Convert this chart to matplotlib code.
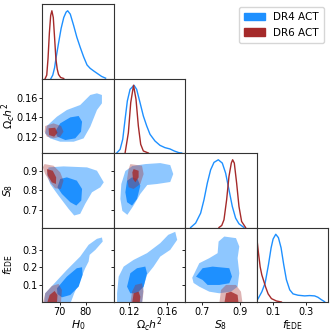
import matplotlib
matplotlib.use("Agg")
import matplotlib.pyplot as plt
from matplotlib.patches import Patch

# parameters: axis labels, ranges and ticks
labels = [r"$H_0$", r"$\Omega_c h^2$", r"$S_8$", r"$f_{\rm EDE}$"]
lims = [(63.3, 90.6), (0.1037, 0.1796), (0.61, 0.99), (0.0, 0.43)]
xticks = [[70, 80], [0.12, 0.16], [0.7, 0.9], [0.1, 0.3]]
xticklabels = [["70", "80"], ["0.12", "0.16"], ["0.7", "0.9"], ["0.1", "0.3"]]
yticks = [[], [0.12, 0.14, 0.16], [0.7, 0.8, 0.9], [0.1, 0.2, 0.3]]
yticklabels = [[], ["0.12", "0.14", "0.16"], ["0.7", "0.8", "0.9"], ["0.1", "0.2", "0.3"]]

# 1D marginals (normalised to peak = 1)
h0_dr4_x = [66.6, 67.3, 68.0, 68.5, 69.5, 70.5, 71.5, 72.4, 73.0, 74.0, 75.3, 76.5, 77.8, 79.1, 80.4, 81.6, 83.0, 84.5, 86.0, 87.5]
h0_dr4_p = [0.0, 0.05, 0.16, 0.29, 0.52, 0.74, 0.90, 0.98, 1.0, 0.95, 0.78, 0.61, 0.46, 0.32, 0.20, 0.15, 0.11, 0.07, 0.03, 0.005]
h0_dr6_x = [64.4, 65.0, 65.5, 66.0, 66.5, 66.96, 67.5, 68.0, 68.5, 69.0, 69.5, 70.3, 71.5]
h0_dr6_p = [0.0, 0.05, 0.30, 0.67, 0.93, 1.0, 0.90, 0.60, 0.29, 0.14, 0.06, 0.015, 0.0]

om_dr4_x = [0.1069, 0.1105, 0.1133, 0.1158, 0.1182, 0.1211, 0.1253, 0.1281, 0.1317, 0.1352, 0.1388, 0.1423, 0.1476, 0.1529, 0.1582, 0.1635, 0.168, 0.173, 0.176]
om_dr4_p = [0.0, 0.054, 0.202, 0.497, 0.768, 0.94, 1.0, 0.94, 0.743, 0.547, 0.399, 0.276, 0.177, 0.113, 0.079, 0.06, 0.03, 0.005, 0.0]
om_dr6_x = [0.1158, 0.1193, 0.1218, 0.1248, 0.1274, 0.1299, 0.1324, 0.1352, 0.1405]
om_dr6_p = [0.0, 0.30, 0.743, 1.0, 0.793, 0.399, 0.128, 0.03, 0.0]

s8_dr4_x = [0.6395, 0.6661, 0.6927, 0.7105, 0.7282, 0.7459, 0.7637, 0.7867, 0.808, 0.8257, 0.8435, 0.8612, 0.8789, 0.8967, 0.9232]
s8_dr4_p = [0.0, 0.065, 0.212, 0.409, 0.655, 0.852, 0.961, 1.0, 0.951, 0.803, 0.557, 0.311, 0.138, 0.055, 0.0]
s8_dr6_x = [0.7903, 0.805, 0.8169, 0.831, 0.8435, 0.8559, 0.863, 0.8719, 0.8843, 0.8967, 0.9108, 0.932]
s8_dr6_p = [0.0, 0.03, 0.114, 0.409, 0.754, 0.951, 1.0, 0.951, 0.655, 0.311, 0.089, 0.0]

f_dr4_x = [0.0, 0.012, 0.032, 0.052, 0.072, 0.088, 0.1, 0.116, 0.132, 0.148, 0.164, 0.18, 0.2, 0.22, 0.25, 0.29, 0.32, 0.35, 0.37, 0.39, 0.41]
f_dr4_p = [0.01, 0.06, 0.15, 0.28, 0.55, 0.80, 0.93, 1.0, 0.95, 0.80, 0.55, 0.33, 0.18, 0.12, 0.10, 0.09, 0.095, 0.09, 0.07, 0.035, 0.005]
f_dr6_x = [0.0, 0.004, 0.012, 0.022, 0.032, 0.045, 0.055, 0.07, 0.09, 0.12, 0.15]
f_dr6_p = [1.0, 0.90, 0.72, 0.52, 0.40, 0.30, 0.22, 0.12, 0.05, 0.015, 0.0]

# 2D contours (68% and 95%), (x, y) in parameter units
h0_om_dr4_95 = [(64.4, 0.1237), (65.05, 0.1312), (68.9, 0.1407), (72.7, 0.1475), (77.8, 0.1526), (81.65, 0.1628), (84.2, 0.1645), (86.1, 0.1628), (86.1, 0.1543), (84.2, 0.1475), (81.65, 0.1305), (79.1, 0.1186), (75.3, 0.1152), (70.15, 0.1152), (66.3, 0.1186)]
h0_om_dr4_68 = [(68.2, 0.1254), (70.15, 0.1339), (74.0, 0.14), (77.2, 0.1414), (78.5, 0.1356), (78.1, 0.1254), (75.9, 0.1186), (72.1, 0.1169), (69.1, 0.1203)]
h0_om_dr6_95 = [(64.4, 0.1312), (67.6, 0.1339), (70.5, 0.1312), (71.4, 0.1254), (70.15, 0.1203), (67.6, 0.1186), (65.05, 0.1203), (64.2, 0.1254)]
h0_om_dr6_68 = [(65.7, 0.1288), (68.2, 0.1295), (69.1, 0.1244), (67.85, 0.1203), (65.9, 0.122)]

h0_s8_dr4_95 = [(65.7, 0.9166), (71.4, 0.9217), (80.4, 0.9166), (84.2, 0.8996), (86.8, 0.8405), (85.5, 0.8151), (82.3, 0.7897), (79.7, 0.7305), (77.8, 0.6797), (75.5, 0.6712), (73.35, 0.7051), (69.5, 0.7728), (66.3, 0.832), (65.05, 0.8827)]
h0_s8_dr4_68 = [(69.1, 0.8151), (70.15, 0.8574), (72.7, 0.8658), (76.5, 0.8489), (78.5, 0.8066), (78.2, 0.7474), (76.3, 0.722), (74.0, 0.739), (70.8, 0.7812)]
h0_s8_dr6_95 = [(64.15, 0.9335), (67.6, 0.925), (70.15, 0.8912), (71.4, 0.8489), (70.4, 0.8066), (68.2, 0.81), (66.3, 0.8405), (64.4, 0.8827), (63.5, 0.9166)]
h0_s8_dr6_68 = [(65.05, 0.9081), (67.3, 0.8996), (68.6, 0.8658), (68.5, 0.832), (66.96, 0.8405), (65.4, 0.8743)]

h0_f_dr4_95 = [(64.0, -0.01), (64.4, 0.0502), (72.7, 0.1852), (77.8, 0.2623), (81.0, 0.3299), (84.2, 0.3646), (86.1, 0.3723), (86.4, 0.3491), (83.6, 0.3009), (81.4, 0.272), (81.0, 0.2334), (79.7, 0.1949), (77.8, 0.1273), (75.5, 0.0502), (74.0, -0.01)]
h0_f_dr4_68 = [(68.9, 0.0791), (72.7, 0.1466), (76.5, 0.1949), (78.5, 0.2006), (78.7, 0.1562), (77.2, 0.0887), (74.0, 0.0405), (70.8, 0.027), (69.1, 0.0463)]
h0_f_dr6_95 = [(63.5, -0.01), (64.4, 0.0502), (66.96, 0.0926), (69.5, 0.1042), (70.8, 0.0694), (70.4, -0.01)]
h0_f_dr6_68 = [(65.05, -0.01), (66.1, 0.0405), (68.0, 0.0637), (69.1, 0.0405), (68.9, -0.01)]

om_s8_dr4_95 = [(0.1108, 0.7558), (0.1118, 0.832), (0.1161, 0.898), (0.1235, 0.9233), (0.1373, 0.9335), (0.1532, 0.9386), (0.1638, 0.9284), (0.167, 0.8827), (0.1638, 0.8421), (0.15, 0.832), (0.1394, 0.8269), (0.132, 0.7812), (0.1246, 0.7203), (0.1182, 0.6746), (0.1129, 0.6949)]
om_s8_dr4_68 = [(0.1161, 0.7898), (0.1179, 0.7391), (0.1232, 0.7218), (0.1285, 0.7558), (0.132, 0.8233), (0.1291, 0.8574), (0.1232, 0.866), (0.1179, 0.8487)]
om_s8_dr6_95 = [(0.1214, 0.9335), (0.1338, 0.9249), (0.1355, 0.8827), (0.132, 0.832), (0.1249, 0.8066), (0.1196, 0.8152), (0.1179, 0.8574), (0.1196, 0.9081)]
om_s8_dr6_68 = [(0.1249, 0.9081), (0.1302, 0.8995), (0.1302, 0.866), (0.1267, 0.8406), (0.1242, 0.8574), (0.1235, 0.8914)]

om_f_dr4_95 = [(0.1073, -0.01), (0.1073, 0.0503), (0.109, 0.1464), (0.1143, 0.2043), (0.1249, 0.2431), (0.1391, 0.2818), (0.1532, 0.3397), (0.1617, 0.3877), (0.1691, 0.4051), (0.1712, 0.3588), (0.1638, 0.3009), (0.1532, 0.2622), (0.1461, 0.2043), (0.1391, 0.1563), (0.1355, 0.0885), (0.1338, -0.01)]
om_f_dr4_68 = [(0.1179, 0.0885), (0.1214, 0.1661), (0.1285, 0.195), (0.1373, 0.2045), (0.1391, 0.1661), (0.1355, 0.0885), (0.1285, 0.0503), (0.1214, 0.0503)]
om_f_dr6_95 = [(0.1214, -0.01), (0.1232, 0.0596), (0.1267, 0.0984), (0.1338, 0.1082), (0.1355, 0.0596), (0.1338, -0.01)]
om_f_dr6_68 = [(0.1232, -0.01), (0.1249, 0.0503), (0.1302, 0.0596), (0.132, 0.0307), (0.1312, -0.01)]

s8_f_dr4_95 = [(0.648, 0.14), (0.6856, 0.224), (0.7388, 0.2529), (0.783, 0.2818), (0.7883, 0.349), (0.8186, 0.3779), (0.8808, 0.3686), (0.8984, 0.32), (0.8894, 0.2529), (0.8984, 0.1661), (0.8894, 0.0885), (0.8543, 0.0596), (0.792, 0.0503), (0.7388, 0.0596), (0.6856, 0.0885), (0.655, 0.11)]
s8_f_dr4_68 = [(0.6681, 0.1464), (0.7032, 0.195), (0.7564, 0.2043), (0.8452, 0.195), (0.8596, 0.1464), (0.8452, 0.1082), (0.792, 0.0984), (0.7298, 0.0984), (0.7032, 0.1273)]
s8_f_dr6_95 = [(0.792, -0.01), (0.8011, 0.0694), (0.8277, 0.0984), (0.8808, 0.0984), (0.9074, 0.0596), (0.916, -0.01)]
s8_f_dr6_68 = [(0.8186, -0.01), (0.8277, 0.0503), (0.8543, 0.0596), (0.8894, 0.0405), (0.8947, -0.01)]

marg = [
    [(h0_dr4_x, h0_dr4_p), (h0_dr6_x, h0_dr6_p)],
    [(om_dr4_x, om_dr4_p), (om_dr6_x, om_dr6_p)],
    [(s8_dr4_x, s8_dr4_p), (s8_dr6_x, s8_dr6_p)],
    [(f_dr4_x, f_dr4_p), (f_dr6_x, f_dr6_p)],
]
# key: (row, col)
contours = {
    (1, 0): [h0_om_dr4_95, h0_om_dr4_68, h0_om_dr6_95, h0_om_dr6_68],
    (2, 0): [h0_s8_dr4_95, h0_s8_dr4_68, h0_s8_dr6_95, h0_s8_dr6_68],
    (3, 0): [h0_f_dr4_95, h0_f_dr4_68, h0_f_dr6_95, h0_f_dr6_68],
    (2, 1): [om_s8_dr4_95, om_s8_dr4_68, om_s8_dr6_95, om_s8_dr6_68],
    (3, 1): [om_f_dr4_95, om_f_dr4_68, om_f_dr6_95, om_f_dr6_68],
    (3, 2): [s8_f_dr4_95, s8_f_dr4_68, s8_f_dr6_95, s8_f_dr6_68],
}

blue = "#1E90FF"
red = "#A52A2A"
fills = [(blue, 0.5), (blue, 1.0), (red, 0.35), (red, 0.8)]

W, H = 332, 333
fig = plt.figure(figsize=(W / 100, H / 100), dpi=100)
x0, cw = 42.3, 71.4
y0, rh = 4.0, 74.5

for i in range(4):
    for j in range(i + 1):
        ax = fig.add_axes([(x0 + j * cw) / W, 1 - (y0 + (i + 1) * rh) / H, cw / W, rh / H])
        ax.set_xlim(lims[j])
        ax.set_xticks(xticks[j])
        for s in ax.spines.values():
            s.set_linewidth(0.8)
            s.set_color("#333333")
        if i == j:
            (xb, pb), (xr, pr) = marg[i]
            ax.plot(xb, pb, color=blue, lw=1.0)
            ax.plot(xr, pr, color=red, lw=1.0)
            ax.set_ylim(0, 1.1)
            ax.set_yticks([])
            ax.tick_params(axis="x", direction="out", length=2.5, width=0.6, labelsize=7, pad=1)
        else:
            for poly, (c, a) in zip(contours[(i, j)], fills):
                xs, ys = zip(*poly)
                ax.fill(xs, ys, color=c, alpha=a, lw=0)
            ax.set_ylim(lims[i])
            ax.set_yticks(yticks[i])
            ax.tick_params(direction="out", length=2.5, width=0.6, labelsize=7, pad=1,
                           left=True, right=True, bottom=True)
        if i == 3:
            ax.set_xticklabels(xticklabels[j])
            ax.set_xlabel(labels[j], fontsize=7.8, va="center")
            ax.xaxis.set_label_coords(0.5, -(325 - 302) / rh)
        else:
            ax.set_xticklabels([])
        if j == 0 and i > 0:
            ax.set_yticklabels(yticklabels[i])
            ax.set_ylabel(labels[i], fontsize=7.8, va="center")
            ax.yaxis.set_label_coords(-(x0 - 8.5) / cw, 0.5)
        elif i != j:
            ax.set_yticklabels([])

handles = [Patch(color=blue, label="DR4 ACT"), Patch(color=red, label="DR6 ACT")]
fig.legend(handles=handles, loc="upper right", bbox_to_anchor=(329 / W, 1 - 2 / H),
           fontsize=7.5, handlelength=2.0, borderpad=0.5, labelspacing=0.5)

fig.savefig("out.png", dpi=100)
